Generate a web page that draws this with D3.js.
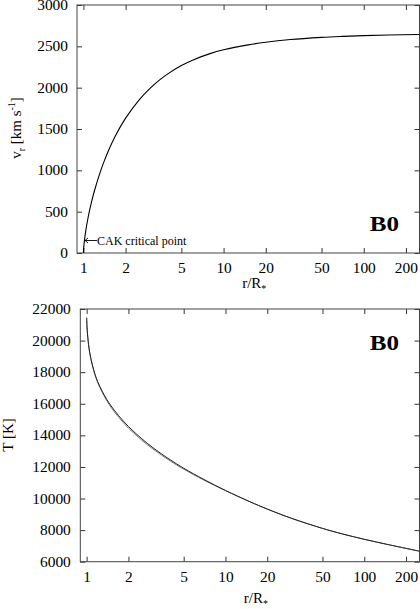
<!DOCTYPE html>
<html>
<head>
<meta charset="utf-8">
<script src="https://cdn.jsdelivr.net/npm/d3@7"></script>
<style>
  html, body { margin: 0; padding: 0; background: #fff; }
  svg { display: block; }
  text { font-family: 'Liberation Serif', 'Times New Roman', serif; fill: #000; }
</style>
</head>
<body>
<div id="chart"></div>
<script>
// Data
const radiusTicks = [1, 2, 5, 10, 20, 50, 100, 200];
const velocityTicks = [0, 500, 1000, 1500, 2000, 2500, 3000];
const temperatureTicks = [6000, 8000, 10000, 12000, 14000, 16000, 18000, 20000, 22000];

// velocity law, r/R* and v_r in km/s
const velR = [1.0, 1.005, 1.01, 1.02, 1.04, 1.07, 1.1, 1.15, 1.2, 1.3, 1.4, 1.5, 1.7, 2.0, 2.5, 3.0, 3.5, 4.0, 5.0, 6.0, 8.0, 10, 15, 20, 30, 50, 70, 100, 150, 250];
const velV = [0, 65, 105, 169, 271, 393, 495, 637, 756, 949, 1102, 1228, 1424, 1631, 1853, 1995, 2094, 2167, 2267, 2333, 2412, 2458, 2518, 2550, 2582, 2608, 2620, 2630, 2637, 2643];

// temperature structure, two nearly identical models
const tempR = [1.0, 1.005, 1.01, 1.02, 1.05, 1.1, 1.15, 1.2, 1.3, 1.4, 1.5, 1.7, 2.0, 2.5, 3.0, 4.0, 5.0, 7.0, 10, 15, 20, 30, 50, 70, 100, 150, 250];
const tempA = [21450, 20960, 20640, 20170, 19280, 18450, 17850, 17400, 16760, 16260, 15860, 15250, 14560, 13780, 13220, 12450, 11920, 11205, 10515, 9800, 9333, 8743, 8110, 7752, 7419, 7076, 6665];
const tempB = [21450, 20960, 20640, 20170, 19280, 18430, 17820, 17350, 16690, 16180, 15770, 15150, 14460, 13690, 13140, 12380, 11860, 11165, 10495, 9792, 9333, 8743, 8110, 7752, 7419, 7076, 6665];

const W = 420, H = 609;
const svg = d3.select('#chart').append('svg')
    .attr('width', W)
    .attr('height', H);

// stretch text horizontally a little, the original type is wider than Times
function stretch(sel, k) {
    sel.each(function() {
        const w = this.getComputedTextLength();
        this.setAttribute('textLength', w * k);
        this.setAttribute('lengthAdjust', 'spacingAndGlyphs');
    });
}

function panel(opt) {
    const x = d3.scaleLog().domain([0.9, 250]).range([opt.left, opt.right]);
    const y = d3.scaleLinear().domain(opt.yDomain).range([opt.bottom, opt.top]);
    const g = svg.append('g');

    // bottom axis with labels
    const xb = g.append('g')
        .attr('transform', `translate(0,${opt.bottom})`)
        .call(d3.axisBottom(x).tickValues(radiusTicks).tickFormat(d3.format('d'))
            .tickSizeInner(-5).tickSizeOuter(0).tickPadding(10));
    // top ticks
    g.append('g')
        .attr('transform', `translate(0,${opt.top})`)
        .call(d3.axisTop(x).tickValues(radiusTicks).tickFormat('')
            .tickSizeInner(-5).tickSizeOuter(0));
    // left axis with labels
    const yl = g.append('g')
        .attr('transform', `translate(${opt.left},0)`)
        .call(d3.axisLeft(y).tickValues(opt.yTicks).tickFormat(d3.format('d'))
            .tickSizeInner(-5).tickSizeOuter(0).tickPadding(opt.yPad));
    // right ticks
    g.append('g')
        .attr('transform', `translate(${opt.right},0)`)
        .call(d3.axisRight(y).tickValues(opt.yTicks).tickFormat('')
            .tickSizeInner(-5).tickSizeOuter(0));

    g.selectAll('.domain').remove();
    g.selectAll('.tick line').attr('stroke', '#333');
    g.selectAll('.tick text')
        .attr('font-family', "'Liberation Serif', serif")
        .attr('font-size', 14)
        .attr('fill', '#000');
    stretch(xb.selectAll('.tick text'), 1.1);
    stretch(yl.selectAll('.tick text'), 1.1);

    // frame
    g.append('rect')
        .attr('x', opt.left)
        .attr('y', opt.top)
        .attr('width', opt.right - opt.left)
        .attr('height', opt.bottom - opt.top)
        .attr('fill', 'none')
        .attr('stroke', '#444')
        .attr('stroke-width', 1);

    // x title
    const xt = g.append('text')
        .attr('x', (opt.left + opt.right) / 2 + 6)
        .attr('y', opt.xTitleY)
        .attr('text-anchor', 'middle')
        .attr('font-size', 15);
    xt.append('tspan').text('r/R');
    xt.append('tspan').attr('dy', 4).attr('font-size', 10).text('*');

    // model label
    const lab = g.append('text')
        .attr('x', 399)
        .attr('y', opt.labelY)
        .attr('text-anchor', 'end')
        .attr('font-size', 20)
        .attr('font-weight', 'bold')
        .text('B0');
    stretch(lab, 1.25);

    return { g, x, y };
}

// top panel: velocity
const velPanel = panel({
    left: 77, right: 419.5, top: 5, bottom: 253,
    yDomain: [0, 3000], yTicks: velocityTicks, yPad: 9,
    xTitleY: 288, labelY: 231
});

const velLine = d3.line()
    .x((d, i) => velPanel.x(velR[i]))
    .y(d => velPanel.y(d))
    .curve(d3.curveCatmullRom.alpha(0.5));

velPanel.g.append('path')
    .datum(velV)
    .attr('d', velLine)
    .attr('fill', 'none')
    .attr('stroke', '#000')
    .attr('stroke-width', 1.1);

// critical point annotation
const cakX = velPanel.x(1.01), cakY = 240.5;
velPanel.g.append('path')
    .attr('d', `M${cakX + 13},${cakY}H${cakX + 1}M${cakX + 4},${cakY - 2.5}L${cakX + 1},${cakY}L${cakX + 4},${cakY + 2.5}`)
    .attr('fill', 'none')
    .attr('stroke', '#000')
    .attr('stroke-width', 0.9);
velPanel.g.append('text')
    .attr('x', cakX + 13)
    .attr('y', 244.5)
    .attr('font-size', 12)
    .text('CAK critical point');

// y title, v_r [km s^-1]
const vt = svg.append('text')
    .attr('transform', 'translate(21,128) rotate(-90)')
    .attr('text-anchor', 'middle')
    .attr('font-size', 15);
vt.append('tspan').text('v');
vt.append('tspan').attr('dy', 4).attr('font-size', 10).text('r');
vt.append('tspan').attr('dy', -4).text(' [km s');
vt.append('tspan').attr('dy', -6).attr('font-size', 10).text('-1');
vt.append('tspan').attr('dy', 6).text(']');

// bottom panel: temperature
const tempPanel = panel({
    left: 80.3, right: 419.5, top: 309, bottom: 561.7,
    yDomain: [6000, 22000], yTicks: temperatureTicks, yPad: 9.5,
    xTitleY: 603, labelY: 350
});

const tempLine = d3.line()
    .x((d, i) => tempPanel.x(tempR[i]))
    .y(d => tempPanel.y(d))
    .curve(d3.curveCatmullRom.alpha(0.5));

tempPanel.g.append('path')
    .datum(tempB)
    .attr('d', tempLine)
    .attr('fill', 'none')
    .attr('stroke', '#777')
    .attr('stroke-width', 1);

tempPanel.g.append('path')
    .datum(tempA)
    .attr('d', tempLine)
    .attr('fill', 'none')
    .attr('stroke', '#222')
    .attr('stroke-width', 1);

svg.append('text')
    .attr('transform', 'translate(13,435) rotate(-90)')
    .attr('text-anchor', 'middle')
    .attr('font-size', 15)
    .text('T [K]');
</script>
</body>
</html>
